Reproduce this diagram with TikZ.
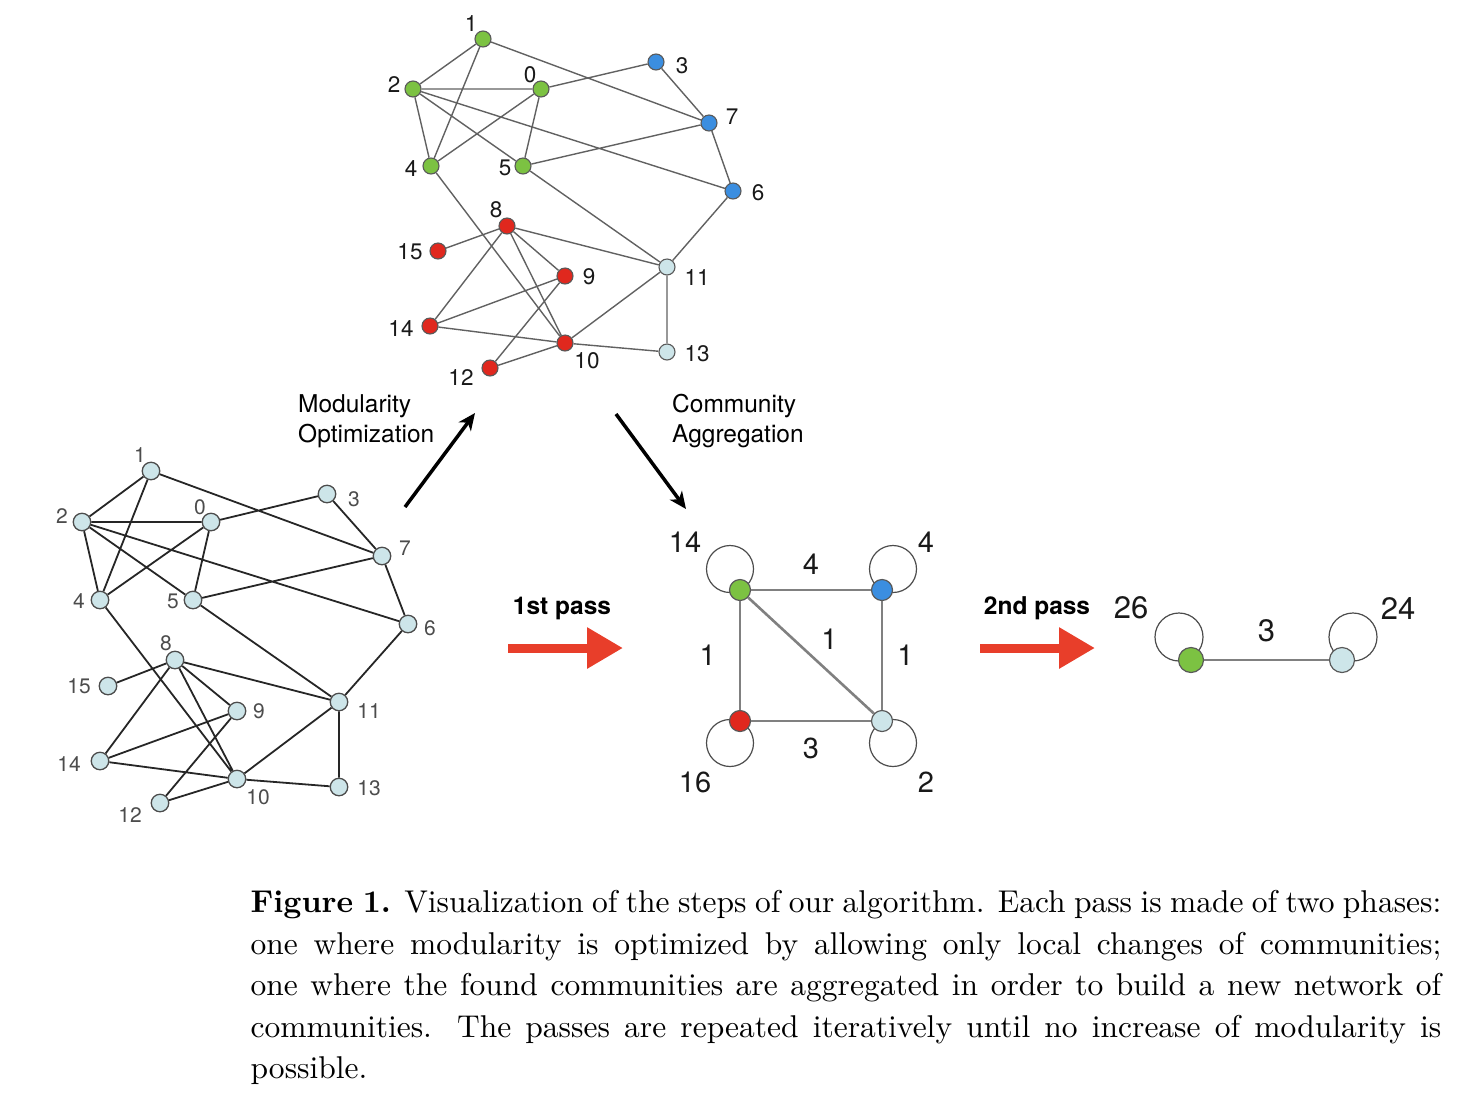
\documentclass[tikz,border=0pt]{standalone}
\usepackage{fontspec}
\newfontfamily\helv{TeX Gyre Heros}
\usetikzlibrary{arrows.meta}
\usetikzlibrary{positioning}
\usetikzlibrary{backgrounds}
\definecolor{vgreen}{RGB}{124,194,66}
\definecolor{vblue}{RGB}{59,142,224}
\definecolor{vred}{RGB}{224,40,30}
\definecolor{vcyan}{RGB}{205,229,233}
\definecolor{passred}{RGB}{232,62,42}
\tikzset{
  mvtx/.style={circle, draw=black!65, line width=1.1pt, inner sep=0pt, minimum size=16pt},
  gvtx/.style={circle, draw=black!70, line width=1.3pt, inner sep=0pt, minimum size=17.5pt, fill=vcyan},
  cvtx/.style={circle, draw=black!65, line width=1.2pt, inner sep=0pt, minimum size=21pt},
  pvtx/.style={circle, draw=black!65, line width=1.2pt, inner sep=0pt, minimum size=25pt},
  medge/.style={draw=black!62, line width=1.4pt},
  gedge/.style={draw=black!85, line width=1.8pt},
  cedge/.style={draw=black!50, line width=2.6pt},
  selfloop/.style={draw=black!70, line width=1.2pt},
  mlbl/.style={inner sep=0pt, text=black!90, font=\helv\fontsize{22.5}{22.5}\selectfont},
  glbl/.style={inner sep=0pt, text=black!70, font=\helv\fontsize{21}{21}\selectfont},
  clbl/.style={inner sep=0pt, text=black!90, font=\helv\fontsize{29}{29}\selectfont},
  plbl/.style={inner sep=0pt, text=black!90, font=\helv\fontsize{31}{31}\selectfont},
  steptext/.style={inner sep=0pt, align=left, font=\helv\fontsize{24.5}{30}\selectfont},
  passtext/.style={inner sep=0pt, font=\helv\bfseries\fontsize{24.5}{30}\selectfont},
  flowarrow/.style={draw=black, line width=3.5pt, -{Stealth[length=17pt, width=15pt, inset=5pt]}},
  passarrow/.style={draw=passred, line width=9pt, -{Triangle[length=36pt, width=39pt]}},
  caption/.style={inner sep=0pt, scale=3.15, transform shape, text width=378pt, align=justify, font=\fontsize{10}{13.17}\selectfont}
}
\begin{document}
\begin{tikzpicture}[x=1pt, y=-1pt]
\useasboundingbox (0,0) rectangle (1474,1104);
\node[mvtx, fill=vgreen] (m0) at (541,89) {}; \node[mlbl] (m0l) at (530,75) {0};
\node[mvtx, fill=vgreen] (m1) at (483,39) {}; \node[mlbl] (m1l) at (471,24) {1};
\node[mvtx, fill=vgreen] (m2) at (413,89) {}; \node[mlbl] (m2l) at (394,85) {2};
\node[mvtx, fill=vblue] (m3) at (656,62) {}; \node[mlbl] (m3l) at (682,66) {3};
\node[mvtx, fill=vgreen] (m4) at (431,166) {}; \node[mlbl] (m4l) at (411,169) {4};
\node[mvtx, fill=vgreen] (m5) at (523,166) {}; \node[mlbl] (m5l) at (505,168) {5};
\node[mvtx, fill=vblue] (m6) at (733,191) {}; \node[mlbl] (m6l) at (758,193) {6};
\node[mvtx, fill=vblue] (m7) at (709,123) {}; \node[mlbl] (m7l) at (732,117) {7};
\node[mvtx, fill=vred] (m8) at (507,226) {}; \node[mlbl] (m8l) at (496,210) {8};
\node[mvtx, fill=vred] (m9) at (565,276) {}; \node[mlbl] (m9l) at (589,277) {9};
\node[mvtx, fill=vred] (m10) at (565,343) {}; \node[mlbl] (m10l) at (587,361) {10};
\node[mvtx, fill=vcyan] (m11) at (667,267) {}; \node[mlbl] (m11l) at (697,278) {11};
\node[mvtx, fill=vred] (m12) at (490,368) {}; \node[mlbl] (m12l) at (461,378) {12};
\node[mvtx, fill=vcyan] (m13) at (667,352) {}; \node[mlbl] (m13l) at (697,354) {13};
\node[mvtx, fill=vred] (m14) at (430,326) {}; \node[mlbl] (m14l) at (401,329) {14};
\node[mvtx, fill=vred] (m15) at (438,251) {}; \node[mlbl] (m15l) at (410,252) {15};
\draw[medge] (m1) -- (m2) (m1) -- (m4) (m1) -- (m7) (m2) -- (m0) (m2) -- (m4) (m2) -- (m5) (m2) -- (m6)
  (m0) -- (m3) (m0) -- (m4) (m0) -- (m5) (m3) -- (m7) (m7) -- (m5) (m7) -- (m6) (m6) -- (m11)
  (m4) -- (m10) (m5) -- (m11) (m8) -- (m15) (m8) -- (m11) (m8) -- (m9) (m8) -- (m10) (m8) -- (m14)
  (m9) -- (m14) (m9) -- (m12) (m14) -- (m10) (m10) -- (m11) (m10) -- (m13) (m10) -- (m12) (m11) -- (m13);
\node[gvtx] (g0) at (211,522) {}; \node[glbl] (g0l) at (200,507) {0};
\node[gvtx] (g1) at (151,471) {}; \node[glbl] (g1l) at (140,455) {1};
\node[gvtx] (g2) at (82,522) {}; \node[glbl] (g2l) at (62,516) {2};
\node[gvtx] (g3) at (327,494) {}; \node[glbl] (g3l) at (354,499) {3};
\node[gvtx] (g4) at (100,600) {}; \node[glbl] (g4l) at (79,601) {4};
\node[gvtx] (g5) at (193,600) {}; \node[glbl] (g5l) at (173,601) {5};
\node[gvtx] (g6) at (408,624) {}; \node[glbl] (g6l) at (430,628) {6};
\node[gvtx] (g7) at (382,556) {}; \node[glbl] (g7l) at (405,548) {7};
\node[gvtx] (g8) at (175,660) {}; \node[glbl] (g8l) at (166,643) {8};
\node[gvtx] (g9) at (237,711) {}; \node[glbl] (g9l) at (259,711) {9};
\node[gvtx] (g10) at (237,779) {}; \node[glbl] (g10l) at (258,797) {10};
\node[gvtx] (g11) at (339,702) {}; \node[glbl] (g11l) at (369,711) {11};
\node[gvtx] (g12) at (160,803) {}; \node[glbl] (g12l) at (130,815) {12};
\node[gvtx] (g13) at (339,787) {}; \node[glbl] (g13l) at (369,788) {13};
\node[gvtx] (g14) at (100,761) {}; \node[glbl] (g14l) at (69,764) {14};
\node[gvtx] (g15) at (108,686) {}; \node[glbl] (g15l) at (79,686) {15};
\draw[gedge] (g1) -- (g2) (g1) -- (g4) (g1) -- (g7) (g2) -- (g0) (g2) -- (g4) (g2) -- (g5) (g2) -- (g6)
  (g0) -- (g3) (g0) -- (g4) (g0) -- (g5) (g3) -- (g7) (g7) -- (g5) (g7) -- (g6) (g6) -- (g11)
  (g4) -- (g10) (g5) -- (g11) (g8) -- (g15) (g8) -- (g11) (g8) -- (g9) (g8) -- (g10) (g8) -- (g14)
  (g9) -- (g14) (g9) -- (g12) (g14) -- (g10) (g10) -- (g11) (g10) -- (g13) (g10) -- (g12) (g11) -- (g13);
\node[steptext, anchor=north west] (modopt) at (298,394) {Modularity\\Optimization};
\node[steptext, anchor=north west] (comagg) at (672,394) {Community\\Aggregation};
\coordinate (mo-tail) at (405,507);
\coordinate (mo-head) at (475,413);
\coordinate (ca-tail) at (616,414);
\coordinate (ca-head) at (686,509);
\draw[flowarrow] (mo-tail) -- (mo-head);
\draw[flowarrow] (ca-tail) -- (ca-head);
\node[passtext, anchor=base] (pass1) at (562,614) {1st pass};
\node[passtext, anchor=base] (pass2) at (1037,614) {2nd pass};
\coordinate (p1-tail) at (508,648);
\coordinate (p1-head) at (623,648);
\coordinate (p2-tail) at (980,648);
\coordinate (p2-head) at (1095,648);
\draw[passarrow] (p1-tail) -- (p1-head);
\draw[passarrow] (p2-tail) -- (p2-head);
\node[cvtx, fill=vgreen] (cg) at (740,590) {};
\node[cvtx, fill=vblue] (cb) at (882,590) {};
\node[cvtx, fill=vred] (cr) at (740,721) {};
\node[cvtx, fill=vcyan] (cc) at (882,721) {};
\begin{pgfonlayer}{background}
\draw[selfloop] ([shift={(-10,-21)}]cg.center) circle (23.5pt);
\draw[selfloop] ([shift={(11,-21)}]cb.center) circle (23.5pt);
\draw[selfloop] ([shift={(-10,22)}]cr.center) circle (23.5pt);
\draw[selfloop] ([shift={(11,22)}]cc.center) circle (23.5pt);
\end{pgfonlayer}
\draw[cedge] (cg) -- node[clbl, above=14pt] (e-gb) {4} (cb);
\draw[cedge] (cg) -- node[clbl, left=23pt] (e-gr) {1} (cr);
\draw[cedge] (cg) -- node[clbl, above right=5pt and 9pt] (e-gc) {1} (cc);
\draw[cedge] (cb) -- node[clbl, right=14pt] (e-bc) {1} (cc);
\draw[cedge] (cr) -- node[clbl, below=16pt] (e-rc) {3} (cc);
\node[clbl] (cgl) at (685,542) {14};
\node[clbl] (cbl) at (926,542) {4};
\node[clbl] (crl) at (695,782) {16};
\node[clbl] (ccl) at (926,782) {2};
\node[pvtx, fill=vgreen] (pg) at (1191,660) {};
\node[pvtx, fill=vcyan] (pc) at (1342,660) {};
\begin{pgfonlayer}{background}
\draw[selfloop] ([shift={(-12,-23)}]pg.center) circle (24pt);
\draw[selfloop] ([shift={(11,-23)}]pc.center) circle (24pt);
\end{pgfonlayer}
\draw[cedge] (pg) -- node[plbl, above=17pt] (e-pp) {3} (pc);
\node[plbl] (pgl) at (1131,608) {26};
\node[plbl] (pcl) at (1398,608) {24};
\node[caption, anchor=north west] (cap) at (250,890) {\textbf{Figure 1.} Visualization of the steps of our algorithm. Each pass is made of two phases:\linebreak one where modularity is optimized by allowing only local changes of communities;\linebreak one where the found communities are aggregated in order to build a new network of\linebreak communities. The passes are repeated iteratively until no increase of modularity is\linebreak possible.};
\end{tikzpicture}
\end{document}
